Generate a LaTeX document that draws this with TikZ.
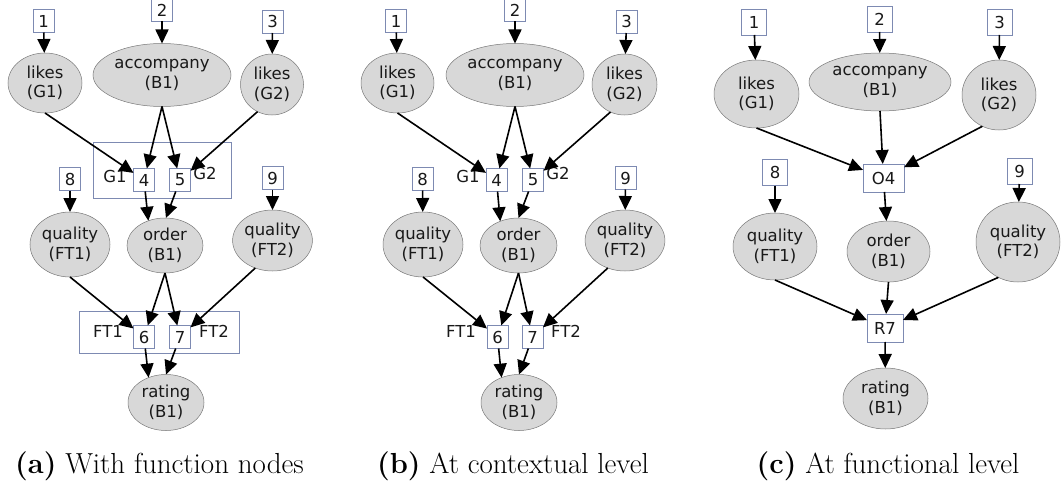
\documentclass[tikz,border=0pt]{standalone}
\usepackage{fontspec}
\newfontfamily\labelfont{DejaVu Sans}
\usetikzlibrary{arrows.meta,shapes.geometric}

\definecolor{ellfill}{RGB}{216,216,216}
\definecolor{elledge}{RGB}{120,120,120}
\definecolor{boxedge}{RGB}{125,138,178}
\definecolor{inktext}{RGB}{25,25,25}

\tikzset{
  nodefont/.style={font=\labelfont\fontsize{16.5}{19.5}\selectfont},
  ell/.style={ellipse, draw=elledge, fill=ellfill, line width=0.5pt,
    inner sep=0pt, outer sep=0pt, align=center, text=inktext, nodefont},
  numbox/.style={rectangle, draw=boxedge, fill=white, line width=0.7pt,
    minimum width=21pt, minimum height=23pt, inner sep=0pt, outer sep=0pt,
    text=inktext, nodefont},
  bignumbox/.style={numbox, minimum width=25pt, minimum height=26pt},
  funcbox/.style={numbox, minimum height=28pt},
  groupbox/.style={rectangle, draw=boxedge, line width=0.7pt, inner sep=0pt},
  grouplabel/.style={inner sep=0pt, text=inktext, nodefont},
  arr/.style={-{Triangle[length=14pt,width=13pt]}, line width=1.6pt, black},
  caption/.style={anchor=base, inner sep=0pt, font=\fontsize{29}{34}\selectfont}
}

\begin{document}
\begin{tikzpicture}[x=1pt,y=-1pt]
\useasboundingbox (0,0) rectangle (1061,487);

% ---------- (a) with function nodes ----------
\node[groupbox, minimum width=138pt, minimum height=56pt] (aG) at (162,170) {};
\node[groupbox, minimum width=160pt, minimum height=42pt] (aFT) at (159,332) {};

\node[numbox] (a1) at (43.5,21) {1};
\node[numbox] (a2) at (162,10) {2};
\node[numbox] (a3) at (272.5,21.5) {3};
\node[ell, minimum width=74pt, minimum height=60pt] (alg1) at (45,83) {likes\\(G1)};
\node[ell, minimum width=138pt, minimum height=63pt] (aacc) at (162,75) {accompany\\(B1)};
\node[ell, minimum width=63pt, minimum height=61pt] (alg2) at (272,84.5) {likes\\(G2)};

\node[grouplabel] (aG1) at (115,176) {G1};
\node[numbox] (a4) at (144,180) {4};
\node[numbox] (a5) at (180,180) {5};
\node[grouplabel] (aG2) at (205,173) {G2};
\node[numbox] (a8) at (70,179) {8};
\node[numbox] (a9) at (272.5,178) {9};

\node[ell, minimum width=80pt, minimum height=65pt] (aq1) at (70,244.5) {quality\\(FT1)};
\node[ell, minimum width=76pt, minimum height=55pt] (aord) at (165,245.5) {order\\(B1)};
\node[ell, minimum width=79pt, minimum height=61pt] (aq2) at (272.5,240.5) {quality\\(FT2)};

\node[grouplabel] (aFT1) at (108,331) {FT1};
\node[numbox] (a6) at (144,337) {6};
\node[numbox] (a7) at (180,337) {7};
\node[grouplabel] (aFT2) at (214,331) {FT2};
\node[ell, minimum width=76pt, minimum height=56pt] (arat) at (166,402.5) {rating\\(B1)};

\draw[arr] (a1) -- (alg1);
\draw[arr] (a2) -- (aacc);
\draw[arr] (a3) -- (alg2);
\draw[arr] (alg1.south) -- (a4);
\draw[arr] (aacc.south) -- (a4);
\draw[arr] (aacc.south) -- (a5);
\draw[arr] (alg2.-118) -- (a5);
\draw[arr] (a4) -- (aord.124);
\draw[arr] (a5) -- (aord.88);
\draw[arr] (a8) -- (aq1);
\draw[arr] (a9) -- (aq2);
\draw[arr] (aq1.south) -- (a6);
\draw[arr] (aord.south) -- (a6);
\draw[arr] (aord.south) -- (a7);
\draw[arr] (aq2.-122) -- (a7);
\draw[arr] (a6) -- (arat.125);
\draw[arr] (a7) -- (arat.90);

\node[caption] (capa) at (159.5,473) {\textbf{(a)} With function nodes};

% ---------- (b) at contextual level ----------
\node[numbox] (b1) at (396,21) {1};
\node[numbox] (b2) at (515,10) {2};
\node[numbox] (b3) at (626.5,21.5) {3};
\node[ell, minimum width=73pt, minimum height=60pt] (blg1) at (397.5,83) {likes\\(G1)};
\node[ell, minimum width=138pt, minimum height=63pt] (bacc) at (515,75) {accompany\\(B1)};
\node[ell, minimum width=65pt, minimum height=61pt] (blg2) at (624.5,84.5) {likes\\(G2)};

\node[grouplabel] (bG1) at (468,176) {G1};
\node[numbox] (b4) at (496.5,180) {4};
\node[numbox] (b5) at (533,180) {5};
\node[grouplabel] (bG2) at (558,173) {G2};
\node[numbox] (b8) at (422.5,179) {8};
\node[numbox] (b9) at (625.5,178) {9};

\node[ell, minimum width=80pt, minimum height=65pt] (bq1) at (423,244.5) {quality\\(FT1)};
\node[ell, minimum width=77pt, minimum height=55pt] (bord) at (518.5,245.5) {order\\(B1)};
\node[ell, minimum width=78pt, minimum height=61pt] (bq2) at (625,240.5) {quality\\(FT2)};

\node[grouplabel] (bFT1) at (461,331) {FT1};
\node[numbox] (b6) at (497.5,337) {6};
\node[numbox] (b7) at (532.5,337) {7};
\node[grouplabel] (bFT2) at (566,331) {FT2};
\node[ell, minimum width=76pt, minimum height=56pt] (brat) at (519,402.5) {rating\\(B1)};

\draw[arr] (b1) -- (blg1);
\draw[arr] (b2) -- (bacc);
\draw[arr] (b3) -- (blg2);
\draw[arr] (blg1.south) -- (b4);
\draw[arr] (bacc.south) -- (b4);
\draw[arr] (bacc.south) -- (b5);
\draw[arr] (blg2.-117) -- (b5);
\draw[arr] (b4) -- (bord.127);
\draw[arr] (b5) -- (bord.90);
\draw[arr] (b8) -- (bq1);
\draw[arr] (b9) -- (bq2);
\draw[arr] (bq1.south) -- (b6);
\draw[arr] (bord.south) -- (b6);
\draw[arr] (bord.south) -- (b7);
\draw[arr] (bq2.-122) -- (b7);
\draw[arr] (b6) -- (brat.125);
\draw[arr] (b7) -- (brat.90);

\node[caption] (capb) at (513,473) {\textbf{(b)} At contextual level};

% ---------- (c) at functional level ----------
\node[bignumbox] (c1) at (754,22) {1};
\node[bignumbox] (c2) at (879.5,19) {2};
\node[bignumbox] (c3) at (999.5,22) {3};
\node[ell, minimum width=85pt, minimum height=68pt] (clg1) at (756.5,94) {likes\\(G1)};
\node[ell, minimum width=142pt, minimum height=58pt] (cacc) at (880,82) {accompany\\(B1)};
\node[ell, minimum width=74pt, minimum height=70pt] (clg2) at (999,95) {likes\\(G2)};

\node[funcbox, minimum width=41pt] (cO4) at (883.5,178) {O4};
\node[bignumbox] (c8) at (775,172.5) {8};
\node[bignumbox] (c9) at (1019.5,171) {9};

\node[ell, minimum width=84pt, minimum height=67pt] (cq1) at (775,246.5) {quality\\(FT1)};
\node[ell, minimum width=83pt, minimum height=61pt] (cord) at (888.5,251.5) {order\\(B1)};
\node[ell, minimum width=84pt, minimum height=80pt] (cq2) at (1018,242) {quality\\(FT2)};

\node[funcbox, minimum width=36pt] (cR7) at (885,328) {R7};
\node[ell, minimum width=85pt, minimum height=61pt] (crat) at (885.5,398.5) {rating\\(B1)};

\draw[arr] (c1) -- (clg1);
\draw[arr] (c2) -- (cacc);
\draw[arr] (c3) -- (clg2);
\draw[arr] (clg1.south) -- (cO4);
\draw[arr] (cacc.south) -- (cO4);
\draw[arr] (clg2.-118) -- (cO4);
\draw[arr] (c8) -- (cq1);
\draw[arr] (c9) -- (cq2);
\draw[arr] (cO4) -- (cord);
\draw[arr] (cq1.south) -- (cR7);
\draw[arr] (cord.south) -- (cR7);
\draw[arr] (cq2.-119) -- (cR7);
\draw[arr] (cR7) -- (crat);

\node[caption] (capc) at (888,473) {\textbf{(c)} At functional level};
\end{tikzpicture}
\end{document}
